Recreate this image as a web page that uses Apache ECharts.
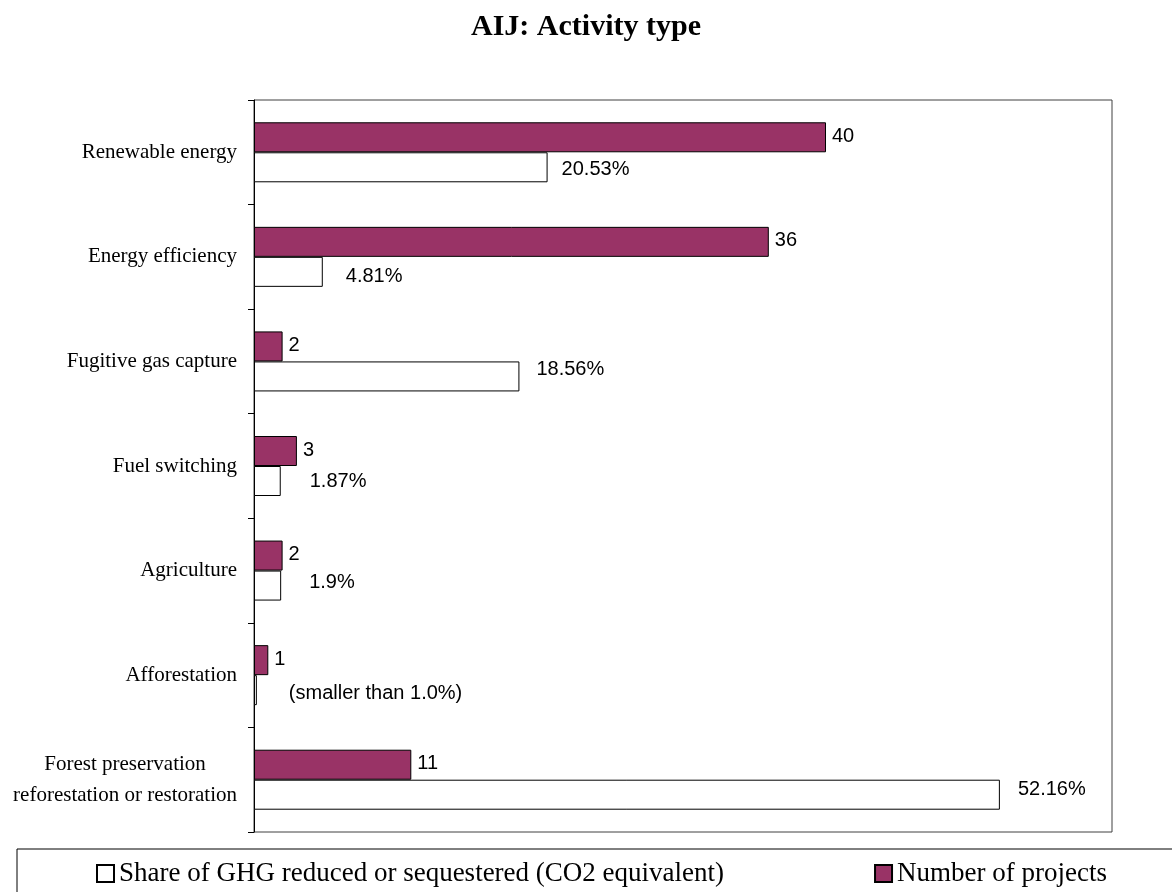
<!DOCTYPE html>
<html>
<head>
<meta charset="utf-8">
<style>
  html, body { margin: 0; padding: 0; background: #fff; }
  #chart { width: 1172px; height: 892px; }
</style>
<script src="https://cdn.jsdelivr.net/npm/echarts@6/dist/echarts.min.js"></script>
</head>
<body>
<div id="chart"></div>
<script>
// ---- data ----
const categories = [
  'Renewable energy',
  'Energy efficiency',
  'Fugitive gas capture',
  'Fuel switching',
  'Agriculture',
  'Afforestation',
  'Forest preservation\nreforestation or restoration'
];
const projectCounts = [40, 36, 2, 3, 2, 1, 11];
const ghgShare = [20.53, 4.81, 18.56, 1.87, 1.9, 0.2, 52.16];
const ghgShareLabels = ['20.53%', '4.81%', '18.56%', '1.87%', '1.9%', '(smaller than 1.0%)', '52.16%'];
const seriesNames = ['Share of GHG reduced or sequestered (CO2 equivalent)', 'Number of projects'];

// ---- label nudges (style only) ----
const shareLabelOffsets = [[9, 2], [18, 5], [12, -7], [24, 0], [23, -3], [27, 3], [13, -5]];

const serif = "'Liberation Serif', 'Times New Roman', serif";
const sans = "'Liberation Sans', Arial, sans-serif";

const chart = echarts.init(document.getElementById('chart'));
chart.setOption({
  animation: false,
  backgroundColor: '#ffffff',
  title: {
    text: 'AIJ: Activity type',
    left: 'center',
    top: 7,
    textStyle: { fontFamily: serif, fontSize: 30, fontWeight: 'bold', color: '#000' }
  },
  grid: {
    left: 254, right: 60, top: 100, bottom: 60,
    show: true, borderColor: '#404040', borderWidth: 1, backgroundColor: 'transparent'
  },
  xAxis: {
    type: 'value', min: 0, max: 60,
    show: false,
    splitLine: { show: false }
  },
  yAxis: {
    type: 'category',
    inverse: true,
    data: categories,
    axisLine: { show: true, lineStyle: { color: '#000', width: 1 } },
    axisTick: { show: true, length: 6, lineStyle: { color: '#000' } },
    axisLabel: {
      margin: 17,
      color: '#000',
      fontFamily: serif,
      fontSize: 21,
      lineHeight: 31,
      formatter: v => {
        const lines = v.split('\n');
        if (lines.length === 1) return '{c|' + v + '}';
        return lines.map((s, i) => (i === 0 ? '{t|' : '{c|') + s + '}').join('\n');
      },
      rich: {
        c: { align: 'center', fontFamily: serif, fontSize: 21, lineHeight: 31, color: '#000' },
        t: { align: 'center', fontFamily: serif, fontSize: 21, lineHeight: 31, color: '#000', padding: [6, 0, 6, 0] }
      }
    }
  },
  legend: {
    data: [seriesNames[0], seriesNames[1]],
    left: 91,
    top: 855,
    itemWidth: 17,
    itemHeight: 17,
    itemGap: 150,
    icon: 'rect',
    textStyle: { fontFamily: serif, fontSize: 27, color: '#000' }
  },
  graphic: [{
    type: 'rect',
    shape: { x: 17, y: 849, width: 1200, height: 80 },
    style: { fill: 'none', stroke: '#000', lineWidth: 1 },
    silent: true
  }],
  series: [
    {
      name: seriesNames[1],
      type: 'bar',
      data: projectCounts,
      barWidth: 30,
      barGap: '0%',
      itemStyle: { color: '#993366', borderColor: '#000', borderWidth: 1 },
      label: {
        show: true, position: 'right', distance: 6, offset: [0, -1],
        fontFamily: sans, fontSize: 20, color: '#000'
      }
    },
    {
      name: seriesNames[0],
      type: 'bar',
      data: ghgShare.map((v, i) => ({
        value: v,
        label: { offset: shareLabelOffsets[i] }
      })),
      barWidth: 30,
      barGap: '0%',
      itemStyle: { color: '#ffffff', borderColor: '#000', borderWidth: 1 },
      label: {
        show: true, position: 'right', distance: 5,
        fontFamily: sans, fontSize: 20, color: '#000',
        formatter: p => ghgShareLabels[p.dataIndex]
      }
    }
  ]
});
</script>
</body>
</html>
